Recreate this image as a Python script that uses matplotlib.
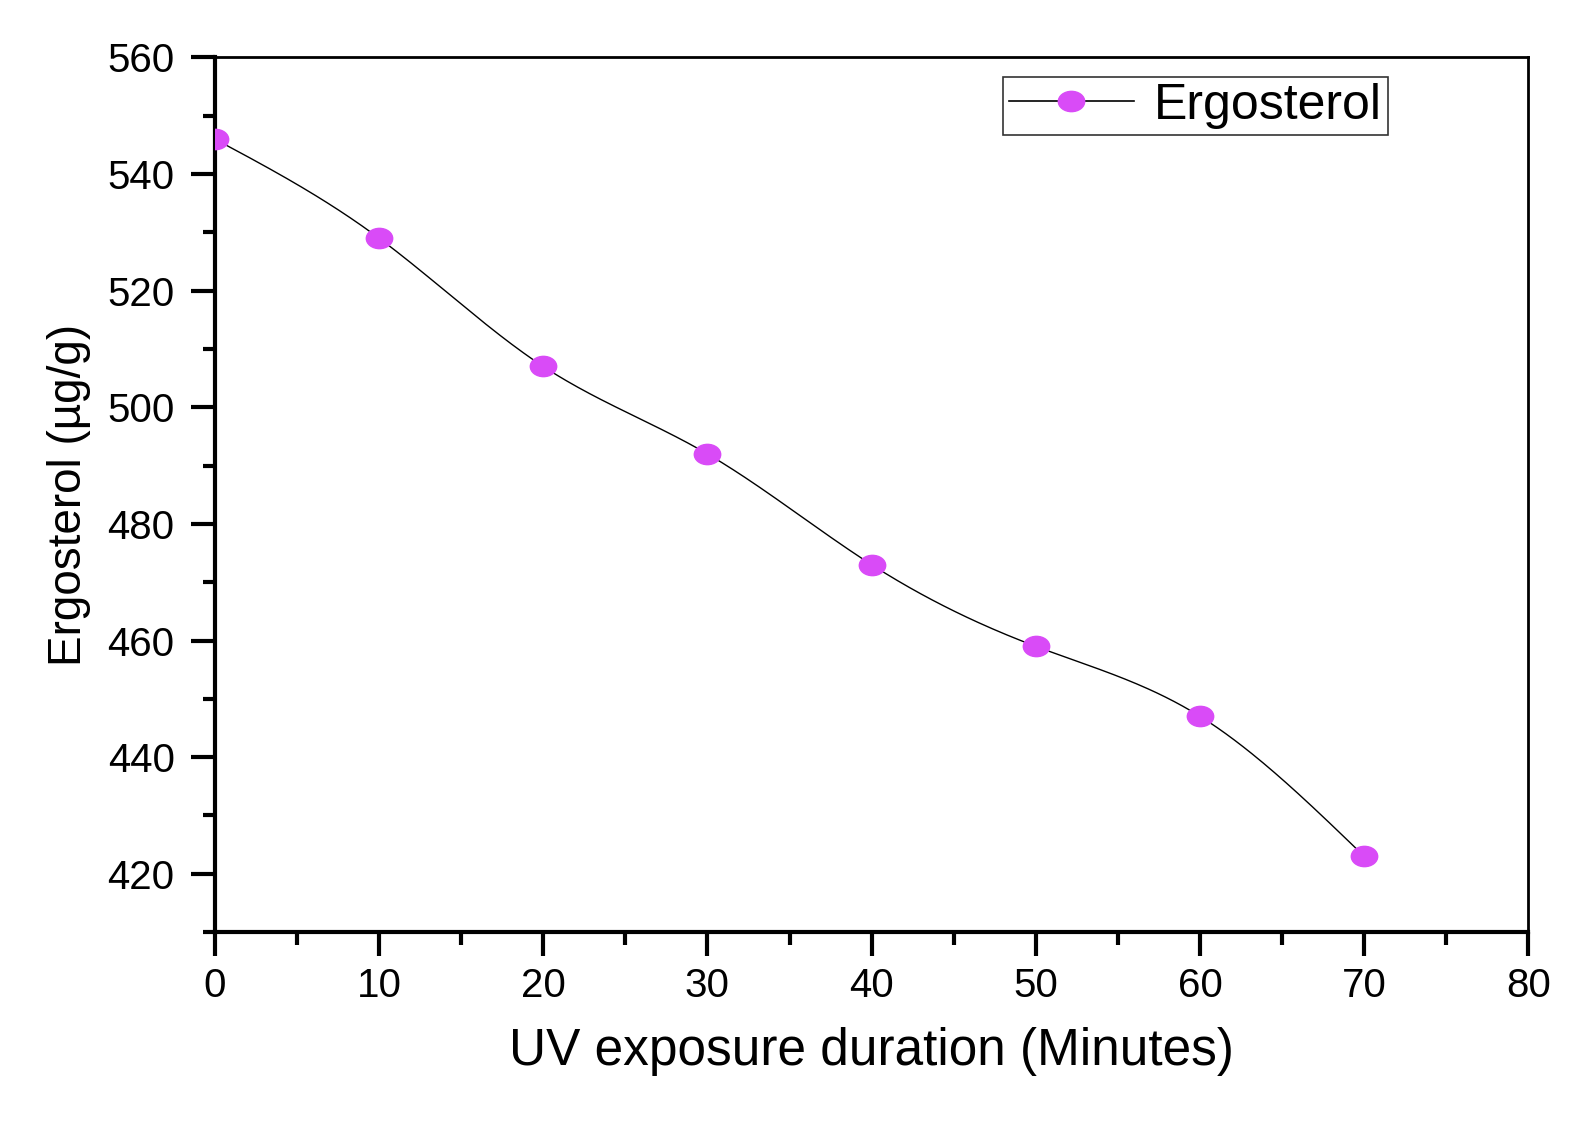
import numpy as np
import matplotlib
matplotlib.use("Agg")
import matplotlib.pyplot as plt
from matplotlib.ticker import MultipleLocator
from matplotlib.path import Path

# data
minutes = [0, 10, 20, 30, 40, 50, 60, 70]
ergosterol = [546, 529, 507, 492, 473, 459, 447, 423]


def spline_curve(x, y, n=400):
    """natural cubic spline through the points, only used to draw the smooth line"""
    x = np.asarray(x, float)
    y = np.asarray(y, float)
    k = len(x)
    h = np.diff(x)
    A = np.zeros((k, k))
    b = np.zeros(k)
    A[0, 0] = A[-1, -1] = 1
    for i in range(1, k - 1):
        A[i, i - 1] = h[i - 1]
        A[i, i] = 2 * (h[i - 1] + h[i])
        A[i, i + 1] = h[i]
        b[i] = 6 * ((y[i + 1] - y[i]) / h[i] - (y[i] - y[i - 1]) / h[i - 1])
    M = np.linalg.solve(A, b)
    xs = np.linspace(x[0], x[-1], n)
    idx = np.clip(np.searchsorted(x, xs) - 1, 0, k - 2)
    x0, x1 = x[idx], x[idx + 1]
    hh = x1 - x0
    ys = (M[idx] * (x1 - xs) ** 3 / (6 * hh) + M[idx + 1] * (xs - x0) ** 3 / (6 * hh)
          + (y[idx] / hh - M[idx] * hh / 6) * (x1 - xs)
          + (y[idx + 1] / hh - M[idx + 1] * hh / 6) * (xs - x0))
    return xs, ys


# slightly wide ellipse marker, like the stretched original
circ = Path.unit_circle()
ellipse = Path(circ.vertices * np.array([1.3, 1.0]), circ.codes)

plt.rcParams['font.family'] = ['Liberation Sans', 'DejaVu Sans']

fig = plt.figure(figsize=(15.92, 11.27), dpi=100)
ax = fig.add_axes([0.135, 0.173, 0.825, 0.776])

xs, ys = spline_curve(minutes, ergosterol)
ax.plot(xs, ys, color='black', lw=1.0, zorder=2)
ax.plot(minutes, ergosterol, ls='none', marker=ellipse, ms=19,
        color='#D94BF7', mec='#D94BF7', zorder=3)
# legend proxy
ax.plot([], [], color='black', lw=1.2, marker=ellipse, ms=19,
        mfc='#D94BF7', mec='#D94BF7', label='Ergosterol')

ax.set_xlim(0, 80)
ax.set_ylim(410, 560)
ax.xaxis.set_major_locator(MultipleLocator(10))
ax.xaxis.set_minor_locator(MultipleLocator(5))
ax.yaxis.set_major_locator(MultipleLocator(20))
ax.yaxis.set_minor_locator(MultipleLocator(10))

ax.tick_params(which='major', direction='out', length=17, width=3,
               labelsize=29, top=False, right=False)
ax.tick_params(which='minor', direction='out', length=9, width=3,
               top=False, right=False)
ax.tick_params(axis='y', which='major', pad=12)
ax.tick_params(axis='x', which='major', pad=8)
for side in ['left', 'bottom']:
    ax.spines[side].set_linewidth(3)
for side in ['top', 'right']:
    ax.spines[side].set_linewidth(2)

ax.set_xlabel('UV exposure duration (Minutes)', fontsize=37, labelpad=16)
ax.set_ylabel('Ergosterol (µg/g)', fontsize=33, labelpad=12)

leg = ax.legend(loc='upper right', bbox_to_anchor=(0.893, 0.978), fontsize=36,
                frameon=True, fancybox=False, handlelength=2.5,
                borderpad=0.12, handletextpad=0.4, borderaxespad=0)
leg.get_frame().set_edgecolor('black')
leg.get_frame().set_linewidth(1.2)

fig.savefig('out.png', dpi=100)
